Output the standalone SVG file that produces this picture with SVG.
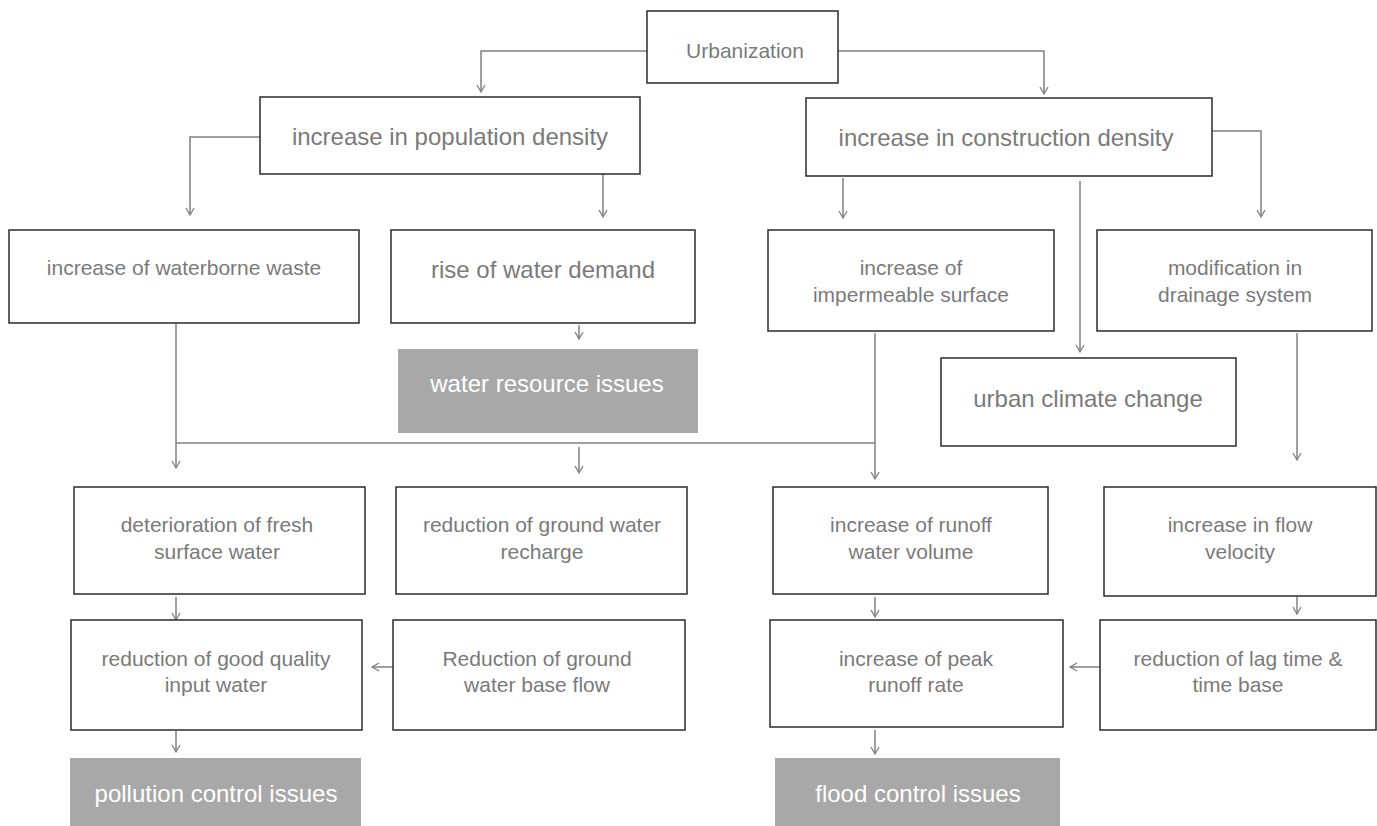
<svg xmlns="http://www.w3.org/2000/svg" width="1377" height="826" viewBox="0 0 1377 826">
<style>
.box{fill:#fff;stroke:#2b2b2b;stroke-width:1.5}
.issue{fill:#a8a8a8;stroke:none}
.t{font-family:"Liberation Sans",Arial,sans-serif;fill:#7a7a7a;text-anchor:middle}
.s{font-size:21px}
.l{font-size:24px}
.w{fill:#ffffff}
.c{fill:none;stroke:#808080;stroke-width:1.5}
</style>
<defs>
<marker id="ah" markerUnits="userSpaceOnUse" markerWidth="12" markerHeight="12" viewBox="-9 -6 10 12" refX="0" refY="0" orient="auto">
<path d="M-7,-4 L0,0 L-7,4" fill="none" stroke="#808080" stroke-width="1.3"/>
</marker>
</defs>
<rect width="1377" height="826" fill="#fff"/>
<g id="connectors">
<path class="c" d="M647,51 H481 V92" marker-end="url(#ah)"/>
<path class="c" d="M838,51 H1044 V94" marker-end="url(#ah)"/>
<path class="c" d="M260,137 H190 V215" marker-end="url(#ah)"/>
<path class="c" d="M603,174 V217" marker-end="url(#ah)"/>
<path class="c" d="M843,178 V218" marker-end="url(#ah)"/>
<path class="c" d="M1080,181 V352" marker-end="url(#ah)"/>
<path class="c" d="M1212,131 H1261 V217" marker-end="url(#ah)"/>
<path class="c" d="M579,325 V339" marker-end="url(#ah)"/>
<path class="c" d="M176,323 V468" marker-end="url(#ah)"/>
<path class="c" d="M176,443 H875"/>
<path class="c" d="M579,447 V473" marker-end="url(#ah)"/>
<path class="c" d="M875,333 V479" marker-end="url(#ah)"/>
<path class="c" d="M1297,333 V460" marker-end="url(#ah)"/>
<path class="c" d="M176,597 V620" marker-end="url(#ah)"/>
<path class="c" d="M393,667 H372" marker-end="url(#ah)"/>
<path class="c" d="M176,731 V752" marker-end="url(#ah)"/>
<path class="c" d="M875,597 V617" marker-end="url(#ah)"/>
<path class="c" d="M1297,597 V614" marker-end="url(#ah)"/>
<path class="c" d="M1100,667 H1070" marker-end="url(#ah)"/>
<path class="c" d="M875,730 V754" marker-end="url(#ah)"/>
</g>
<g id="urbanization"><rect class="box" x="647" y="11" width="191" height="72"/><text class="t s" x="745" y="58">Urbanization</text></g>
<g id="population"><rect class="box" x="260" y="97" width="380" height="77"/><text class="t l" x="450" y="145">increase in population density</text></g>
<g id="construction"><rect class="box" x="806" y="98" width="406" height="78"/><text class="t l" x="1006" y="146">increase in construction density</text></g>
<g id="waterborne"><rect class="box" x="9" y="230" width="350" height="93"/><text class="t s" x="184" y="275">increase of waterborne waste</text></g>
<g id="demand"><rect class="box" x="391" y="230" width="304" height="93"/><text class="t l" x="543" y="278">rise of water demand</text></g>
<g id="resource"><rect class="issue" x="398" y="349" width="300" height="84"/><text class="t l w" x="547" y="392">water resource issues</text></g>
<g id="impermeable"><rect class="box" x="768" y="230" width="286" height="101"/><text class="t s" x="911" y="275">increase of</text><text class="t s" x="911" y="302">impermeable surface</text></g>
<g id="drainage"><rect class="box" x="1097" y="230" width="275" height="101"/><text class="t s" x="1235" y="275">modification in</text><text class="t s" x="1235" y="302">drainage system</text></g>
<g id="climate"><rect class="box" x="941" y="358" width="295" height="88"/><text class="t l" x="1088" y="407">urban climate change</text></g>
<g id="deterioration"><rect class="box" x="74" y="487" width="291" height="107"/><text class="t s" x="217" y="532">deterioration of fresh</text><text class="t s" x="217" y="559">surface water</text></g>
<g id="recharge"><rect class="box" x="396" y="487" width="291" height="107"/><text class="t s" x="542" y="532">reduction of ground water</text><text class="t s" x="542" y="559">recharge</text></g>
<g id="runoff"><rect class="box" x="773" y="487" width="275" height="107"/><text class="t s" x="911" y="532">increase of runoff</text><text class="t s" x="911" y="559">water volume</text></g>
<g id="velocity"><rect class="box" x="1104" y="487" width="272" height="109"/><text class="t s" x="1240" y="532">increase in flow</text><text class="t s" x="1240" y="559">velocity</text></g>
<g id="quality"><rect class="box" x="71" y="620" width="291" height="110"/><text class="t s" x="216" y="666">reduction of good quality</text><text class="t s" x="216" y="692">input water</text></g>
<g id="baseflow"><rect class="box" x="393" y="620" width="292" height="110"/><text class="t s" x="537" y="666">Reduction of ground</text><text class="t s" x="537" y="692">water base flow</text></g>
<g id="peak"><rect class="box" x="770" y="620" width="293" height="107"/><text class="t s" x="916" y="666">increase of peak</text><text class="t s" x="916" y="692">runoff rate</text></g>
<g id="lag"><rect class="box" x="1100" y="620" width="276" height="110"/><text class="t s" x="1238" y="666">reduction of lag time &amp;</text><text class="t s" x="1238" y="692">time base</text></g>
<g id="pollution"><rect class="issue" x="70" y="758" width="291" height="68"/><text class="t l w" x="216" y="802">pollution control issues</text></g>
<g id="flood"><rect class="issue" x="775" y="758" width="285" height="68"/><text class="t l w" x="918" y="802">flood control issues</text></g>
</svg>
